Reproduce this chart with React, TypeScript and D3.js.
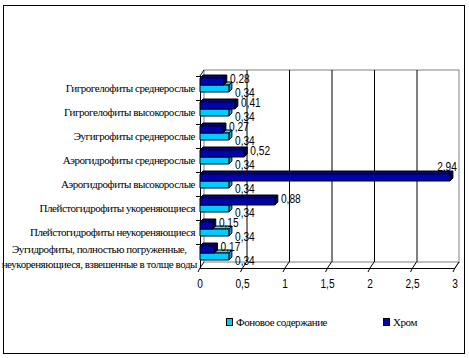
import React from "react";
import * as d3 from "d3";

const categories = [
  "Гигрогелофиты среднерослые",
  "Гигрогелофиты высокорослые",
  "Эугигрофиты среднерослые",
  "Аэрогидрофиты среднерослые",
  "Аэрогидрофиты высокорослые",
  "Плейстогидрофиты укореняющиеся",
  "Плейстогидрофиты неукореняющиеся",
  "Эугидрофиты, полностью погруженные,\nнеукореняющиеся, взвешенные в толще воды",
];
const chromValues = [0.28, 0.41, 0.27, 0.52, 2.94, 0.88, 0.15, 0.17];
const backgroundValues = [0.34, 0.34, 0.34, 0.34, 0.34, 0.34, 0.34, 0.34];
const xTicks = [0, 0.5, 1, 1.5, 2, 2.5, 3];
const seriesNames = ["Фоновое содержание", "Хром"];

const W = 469;
const H = 358;
const depth = { dx: 4, dy: -6 };
const barDepth = { dx: 3, dy: -3 };
const barH = 7;

const locale = d3.formatLocale({
  decimal: ",",
  thousands: " ",
  grouping: [3],
  currency: ["", ""],
});
const fmtValue = locale.format(".2f");
const fmtTick = locale.format(".1~f");

const serif = "'Liberation Serif', 'Times New Roman', 'DejaVu Serif', serif";
const sans = "'Liberation Sans', Arial, sans-serif";
const labelFont = "11px 'Liberation Serif'";
const labelSpacing = -0.45;

let ctx: CanvasRenderingContext2D | null = null;
const measure = (s: string) => {
  if (!ctx) ctx = document.createElement("canvas").getContext("2d");
  if (!ctx) return s.length * 5;
  ctx.font = labelFont;
  return ctx.measureText(s).width + labelSpacing * s.length;
};

const colors = {
  bg: { front: "#00CCFF", top: "#33DDFF", side: "#0099CC" },
  chrom: { front: "#0000B4", top: "#000080", side: "#000066" },
};

const Bar = ({ x0, x1, y0, c }: any) => {
  const { dx, dy } = barDepth;
  const top = `M${x0},${y0}L${x1},${y0}L${x1 + dx},${y0 + dy}L${x0 + dx},${y0 + dy}Z`;
  const side = `M${x1},${y0}L${x1},${y0 + barH}L${x1 + dx},${y0 + barH + dy}L${x1 + dx},${y0 + dy}Z`;
  return (
    <g stroke="#000" strokeWidth={1} strokeLinejoin="round">
      <path d={top} fill={c.top} />
      <path d={side} fill={c.side} />
      <rect x={x0} y={y0} width={x1 - x0} height={barH} fill={c.front} />
    </g>
  );
};

const ValueLabel = ({ x, y, text }: any) => (
  <text
    transform={`translate(${x},${y}) scale(0.78,1)`}
    textAnchor="middle"
    dominantBaseline="central"
    fontFamily={sans}
    fontSize={13}
  >
    {text}
  </text>
);

export default function App() {
  const x = d3.scaleLinear().domain([0, 3]).range([200, 455]);
  const y = d3.scaleBand<string>().domain(categories).range([76, 268]);
  const yTop = 76;
  const yBot = 268;
  const bw = y.bandwidth();

  return (
    <svg
      width={W}
      height={H}
      style={{ position: "absolute", left: 0, top: 0, background: "#fff" }}
    >
      <rect x={3.5} y={5.5} width={461} height={348} fill="#fff" stroke="#000" strokeWidth={1} />

      {/* back wall and floor */}
      <rect
        x={x(0) + depth.dx}
        y={yTop + depth.dy}
        width={x(3) - x(0)}
        height={yBot - yTop}
        fill="none"
        stroke="#808080"
      />
      <line x1={x(3)} y1={yBot} x2={x(3) + depth.dx} y2={yBot + depth.dy} stroke="#808080" />
      {xTicks.map((t) => (
        <g key={t} stroke="#000">
          {t > 0 && t < 3 && (
            <line
              x1={x(t) + depth.dx + 0.5}
              x2={x(t) + depth.dx + 0.5}
              y1={yTop + depth.dy}
              y2={yBot + depth.dy}
            />
          )}
          <line x1={x(t)} y1={yBot} x2={x(t) + depth.dx} y2={yBot + depth.dy} />
          <line x1={x(t)} y1={yBot} x2={x(t) - 2} y2={yBot + 4} />
        </g>
      ))}
      <line x1={x(0)} x2={x(3)} y1={yBot + 0.5} y2={yBot + 0.5} stroke="#000" />
      <line x1={x(0) + 0.5} x2={x(0) + 0.5} y1={yTop} y2={yBot} stroke="#000" />
      <line x1={x(0)} y1={yTop} x2={x(0) + depth.dx} y2={yTop + depth.dy} stroke="#000" />
      {categories.map((c) => (
        <line key={c} x1={x(0) - 4} x2={x(0)} y1={(y(c) as number) + 0.5} y2={(y(c) as number) + 0.5} stroke="#000" />
      ))}

      {/* x tick labels */}
      {xTicks.map((t) => (
        <ValueLabel key={t} x={x(t)} y={283} text={fmtTick(t)} />
      ))}

      {/* category labels */}
      {categories.map((c) => {
        const lines = c.split("\n");
        const cy = (y(c) as number) + bw / 2;
        const right = x(0) - 5;
        if (lines.length === 1) {
          return (
            <text
              key={c}
              x={right}
              y={cy}
              textAnchor="end"
              dominantBaseline="central"
              fontFamily={serif}
              fontSize={11}
              letterSpacing={labelSpacing}
            >
              {c}
            </text>
          );
        }
        const maxW = d3.max(lines, measure) as number;
        const cx = right + 2 - maxW / 2;
        return (
          <text
            key={c}
            textAnchor="middle"
            dominantBaseline="central"
            fontFamily={serif}
            fontSize={11}
            letterSpacing={labelSpacing}
          >
            {lines.map((l, i) => (
              <tspan key={i} x={cx} y={cy + (i - (lines.length - 1) / 2) * 15}>
                {l}
              </tspan>
            ))}
          </text>
        );
      })}

      {/* bars */}
      {categories.map((c, i) => {
        const b = y(c) as number;
        return (
          <g key={c}>
            <Bar x0={x(0)} x1={x(backgroundValues[i])} y0={b + 2 + barH} c={colors.bg} />
            <Bar x0={x(0)} x1={x(chromValues[i])} y0={b + 2} c={colors.chrom} />
          </g>
        );
      })}

      {/* data labels */}
      {categories.map((c, i) => {
        const b = y(c) as number;
        const cx = x(chromValues[i]) + 16;
        const over = cx > 447;
        return (
          <g key={c}>
            <ValueLabel x={over ? 447 : cx} y={over ? b - 6 : b + 2} text={fmtValue(chromValues[i])} />
            <ValueLabel x={x(backgroundValues[i]) + 16} y={b + 16} text={fmtValue(backgroundValues[i])} />
          </g>
        );
      })}

      {/* legend */}
      {seriesNames.map((s, i) => {
        const lx = i === 0 ? 226 : 383;
        return (
          <g key={s}>
            <rect
              x={lx + 0.5}
              y={318.5}
              width={6}
              height={7}
              fill={i === 0 ? colors.bg.front : colors.chrom.front}
              stroke="#000"
            />
            <text
              x={lx + 10}
              y={322}
              dominantBaseline="central"
              fontFamily={serif}
              fontSize={11}
              letterSpacing={labelSpacing}
            >
              {s}
            </text>
          </g>
        );
      })}
    </svg>
  );
}
